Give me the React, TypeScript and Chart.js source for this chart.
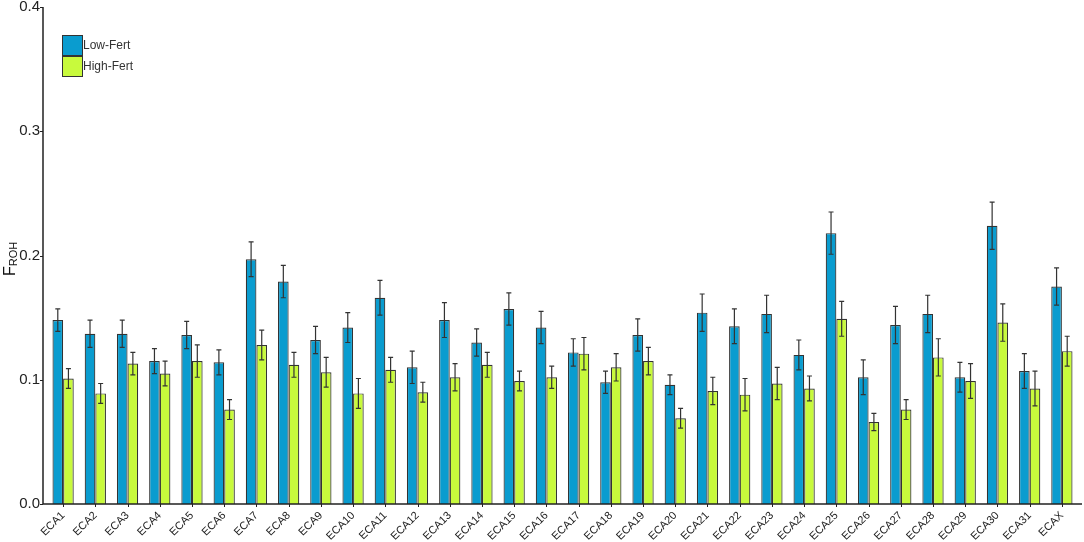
import { useRef, useEffect } from "react"
import { Chart, registerables } from "chart.js"

Chart.register(...registerables)

const categories = [
  "ECA1", "ECA2", "ECA3", "ECA4", "ECA5", "ECA6", "ECA7", "ECA8", "ECA9", "ECA10",
  "ECA11", "ECA12", "ECA13", "ECA14", "ECA15", "ECA16", "ECA17", "ECA18", "ECA19", "ECA20",
  "ECA21", "ECA22", "ECA23", "ECA24", "ECA25", "ECA26", "ECA27", "ECA28", "ECA29", "ECA30",
  "ECA31", "ECAX",
]

const lowFert = [
  0.148, 0.137, 0.137, 0.115, 0.136, 0.114, 0.197, 0.179, 0.132, 0.142,
  0.166, 0.110, 0.148, 0.130, 0.157, 0.142, 0.122, 0.098, 0.136, 0.096,
  0.154, 0.143, 0.153, 0.120, 0.218, 0.102, 0.144, 0.153, 0.102, 0.224,
  0.107, 0.175,
]
const lowFertErr = [
  0.009, 0.011, 0.011, 0.010, 0.011, 0.010, 0.014, 0.013, 0.011, 0.012,
  0.014, 0.013, 0.014, 0.011, 0.013, 0.013, 0.011, 0.009, 0.013, 0.008,
  0.015, 0.014, 0.015, 0.012, 0.017, 0.014, 0.015, 0.015, 0.012, 0.019,
  0.014, 0.015,
]

const highFert = [
  0.101, 0.089, 0.113, 0.105, 0.115, 0.076, 0.128, 0.112, 0.106, 0.089,
  0.108, 0.090, 0.102, 0.112, 0.099, 0.102, 0.121, 0.110, 0.115, 0.069,
  0.091, 0.088, 0.097, 0.093, 0.149, 0.066, 0.076, 0.118, 0.099, 0.146,
  0.093, 0.123,
]
const highFertErr = [
  0.008, 0.008, 0.009, 0.010, 0.013, 0.008, 0.012, 0.010, 0.012, 0.012,
  0.010, 0.008, 0.011, 0.010, 0.008, 0.009, 0.013, 0.011, 0.011, 0.008,
  0.011, 0.013, 0.013, 0.010, 0.014, 0.007, 0.008, 0.015, 0.014, 0.015,
  0.014, 0.012,
]

const yTicks = [0, 0.1, 0.2, 0.3, 0.4]

const seriesNames = ["Low-Fert", "High-Fert"]
const seriesColors = ["#0a9ccf", "#c8fa3c"]
const errors = [lowFertErr, highFertErr]

const FONT = "Arial, 'Liberation Sans', sans-serif"
const AXIS_X = 43 // y axis line sits a little left of the first bar group

const errorBarPlugin = {
  id: "errorBars",
  afterDatasetsDraw(chart: any) {
    const ctx = chart.ctx
    const y = chart.scales.y
    ctx.save()
    ctx.strokeStyle = "#333"
    ctx.lineWidth = 1.2
    chart.data.datasets.forEach((ds: any, di: number) => {
      const meta = chart.getDatasetMeta(di)
      meta.data.forEach((bar: any, i: number) => {
        const v = ds.data[i]
        const e = errors[di][i]
        const top = y.getPixelForValue(v + e)
        const bot = y.getPixelForValue(v - e)
        const x = bar.x
        ctx.beginPath()
        ctx.moveTo(x, top)
        ctx.lineTo(x, bot)
        ctx.moveTo(x - 2.5, top)
        ctx.lineTo(x + 2.5, top)
        ctx.moveTo(x - 2.5, bot)
        ctx.lineTo(x + 2.5, bot)
        ctx.stroke()
      })
    })
    ctx.restore()
  },
}

const axesPlugin = {
  id: "axes",
  afterDraw(chart: any) {
    const ctx = chart.ctx
    const { top, bottom, right } = chart.chartArea
    const x = chart.scales.x
    const y = chart.scales.y
    ctx.save()
    ctx.strokeStyle = "#222"
    ctx.lineWidth = 1.5
    ctx.beginPath()
    ctx.moveTo(AXIS_X, top)
    ctx.lineTo(AXIS_X, bottom)
    ctx.lineTo(right + 4, bottom)
    ctx.stroke()
    ctx.lineWidth = 1
    ctx.beginPath()
    yTicks.forEach((v) => {
      const py = Math.round(y.getPixelForValue(v)) + 0.5
      ctx.moveTo(AXIS_X - 3, py)
      ctx.lineTo(AXIS_X, py)
    })
    categories.forEach((_, i) => {
      const px = Math.round(x.getPixelForValue(i)) + 0.5
      ctx.moveTo(px, bottom)
      ctx.lineTo(px, bottom + 3)
    })
    ctx.stroke()
    ctx.fillStyle = "#222"
    ctx.font = `15px ${FONT}`
    ctx.textAlign = "right"
    ctx.textBaseline = "middle"
    yTicks.forEach((v) => {
      ctx.fillText(v.toFixed(1), AXIS_X - 3, y.getPixelForValue(v))
    })
    ctx.restore()
  },
}

const legendAndTitlePlugin = {
  id: "legendAndTitle",
  afterDraw(chart: any) {
    const ctx = chart.ctx
    ctx.save()
    seriesNames.forEach((name, i) => {
      const bx = 62
      const by = 35 + i * 21
      ctx.fillStyle = seriesColors[i]
      ctx.fillRect(bx, by, 20, 20)
      ctx.strokeStyle = "#333"
      ctx.lineWidth = 1
      ctx.strokeRect(bx + 0.5, by + 0.5, 20, 20)
      ctx.fillStyle = "#333"
      ctx.font = `12px ${FONT}`
      ctx.textBaseline = "middle"
      ctx.textAlign = "left"
      ctx.fillText(name, bx + 21, by + 11)
    })
    // y axis title: F with subscript ROH
    ctx.translate(15, 276)
    ctx.rotate(-Math.PI / 2)
    ctx.fillStyle = "#111"
    ctx.textBaseline = "alphabetic"
    ctx.textAlign = "left"
    ctx.font = `16px ${FONT}`
    ctx.fillText("F", 0, 0)
    const fw = ctx.measureText("F").width
    ctx.font = `11px ${FONT}`
    ctx.fillText("ROH", fw, 2)
    ctx.restore()
  },
}

function FrohChart() {
  const chartRef = useRef<HTMLCanvasElement>(null)
  const chartInstance = useRef<Chart | null>(null)

  useEffect(() => {
    if (!chartRef.current) return
    if (chartInstance.current) chartInstance.current.destroy()
    const ctx = chartRef.current.getContext("2d")
    if (!ctx) return

    chartInstance.current = new Chart(ctx, {
      type: "bar",
      data: {
        labels: categories,
        datasets: [lowFert, highFert].map((d, i) => ({
          label: seriesNames[i],
          data: d,
          backgroundColor: seriesColors[i],
          borderColor: "#333",
          borderWidth: 1.2,
          categoryPercentage: 0.66,
          barPercentage: 1.0,
        })),
      },
      options: {
        animation: false,
        responsive: true,
        maintainAspectRatio: false,
        layout: { padding: { top: 7, right: 6, left: 0, bottom: 0 } },
        plugins: {
          legend: { display: false },
          tooltip: { enabled: false },
        },
        scales: {
          x: {
            grid: { display: false },
            border: { display: false },
            ticks: {
              color: "#222",
              font: { family: FONT, size: 11 },
              maxRotation: 45,
              minRotation: 45,
              autoSkip: false,
              padding: -3,
            },
            afterFit: (s: any) => {
              s.height = 38
            },
          },
          y: {
            min: 0,
            max: 0.4,
            afterBuildTicks: (s: any) => {
              s.ticks = yTicks.map((v) => ({ value: v }))
            },
            grid: { display: false },
            border: { display: false },
            ticks: { display: false },
            afterFit: (s: any) => {
              s.width = 47
            },
          },
        },
      },
      plugins: [errorBarPlugin, axesPlugin, legendAndTitlePlugin],
    })

    return () => {
      if (chartInstance.current) {
        chartInstance.current.destroy()
        chartInstance.current = null
      }
    }
  }, [])

  return <canvas ref={chartRef} />
}

export default function App() {
  return (
    <div
      style={{
        position: "fixed",
        left: 0,
        top: 0,
        width: 1084,
        height: 542,
        background: "#fff",
      }}
    >
      <FrohChart />
    </div>
  )
}
